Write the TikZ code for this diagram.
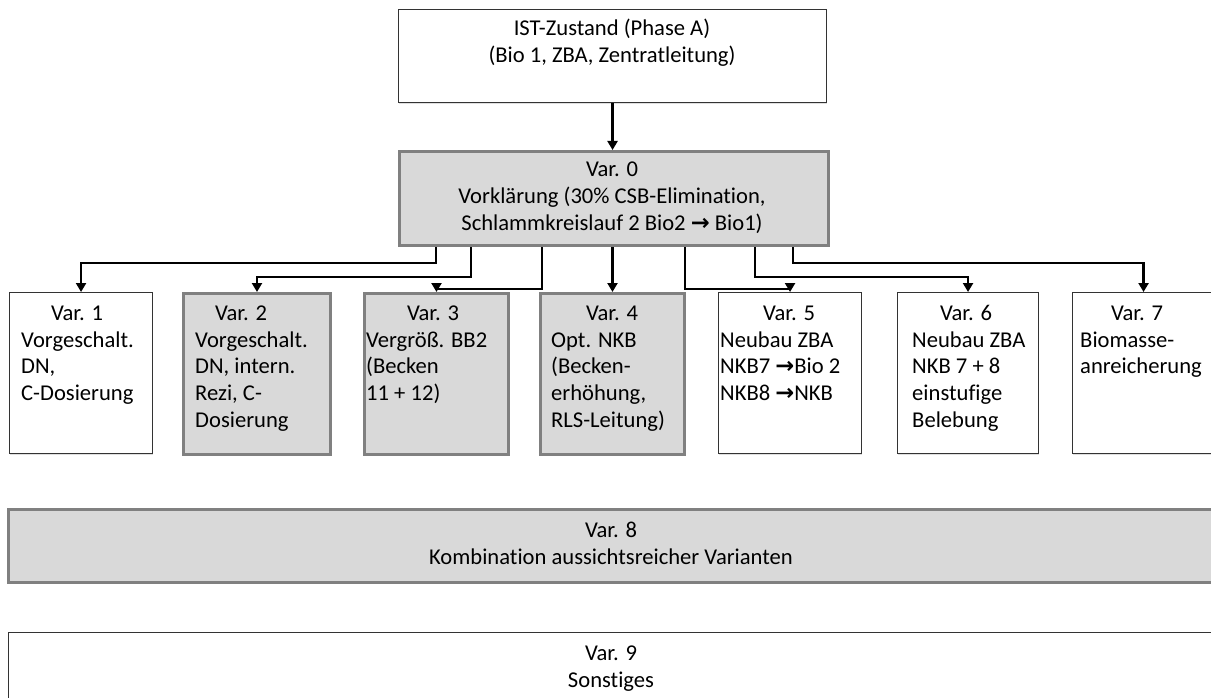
\documentclass[tikz,border=0pt]{standalone}
\usepackage{fontspec}
\setmainfont{Carlito}[Ligatures={NoCommon}]
\newfontfamily\symfont{DejaVu Sans}
\usetikzlibrary{arrows.meta,shadows}
\newcommand\rarrow{{\symfont\bfseries\char"2192}}
\definecolor{boxgray}{HTML}{D9D9D9}
\definecolor{edgegray}{HTML}{808080}
\tikzset{
  every node/.style={font=\fontsize{22.6}{26.8}\selectfont, inner sep=0pt},
  plainbox/.style={rectangle, draw=black!80, line width=1.1pt, fill=white, anchor=north west,
    drop shadow={shadow xshift=0.8pt, shadow yshift=-1.2pt, opacity=.25}},
  greybox/.style={rectangle, draw=edgegray, line width=3pt, fill=boxgray, anchor=north west,
    drop shadow={shadow xshift=1pt, shadow yshift=-1.5pt, opacity=.35}},
  conn/.style={line width=2.6pt, -{Triangle[width=10pt,length=9pt]}},
  title/.style={anchor=base},
  % multi-line texts are placed by the baseline of their last line
  desc/.style={anchor=base west, align=left},
  mid/.style={anchor=base, align=center},
}
\begin{document}
\begin{tikzpicture}[x=1pt,y=-1pt]
\useasboundingbox (0,0) rectangle (1211,698);
\clip (0,0) rectangle (1211,698);
\fill[white] (0,0) rectangle (1211,698);

% starting state and base variant
\node[plainbox, minimum width=428pt, minimum height=93pt] (top) at (398,9) {};
\node[mid] (toptxt) at (612,62.8) {IST-Zustand (Phase A)\\(Bio 1, ZBA, Zentratleitung)};

\node[greybox, minimum width=429pt, minimum height=94pt] (v0) at (398,150) {};
\node[mid] (v0txt) at (612,230.6) {Var. 0\\Vorklärung (30\% CSB-Elimination,\\Schlammkreislauf 2 Bio2 \rarrow{} Bio1)};

% row of variants
\node[plainbox, minimum width=143pt, minimum height=161pt] (v1) at (9,292) {};
\node[greybox,  minimum width=147pt, minimum height=161pt] (v2) at (182,292) {};
\node[greybox,  minimum width=144pt, minimum height=161pt] (v3) at (363,292) {};
\node[greybox,  minimum width=144pt, minimum height=161pt] (v4) at (539,292) {};
\node[plainbox, minimum width=143pt, minimum height=161pt] (v5) at (718,292) {};
\node[plainbox, minimum width=141pt, minimum height=161pt] (v6) at (897,292) {};
\node[plainbox, minimum width=142pt, minimum height=161pt] (v7) at (1072,292) {};

\node[title] (t1) at (77,320) {Var. 1};
\node[desc]  (d1) at (21,400.6) {Vorgeschalt.\\DN,\\C-Dosierung};
\node[title] (t2) at (241,320) {Var. 2};
\node[desc]  (d2) at (195,427.4) {Vorgeschalt.\\DN, intern.\\Rezi, C-\\Dosierung};
\node[title] (t3) at (433,320) {Var. 3};
\node[desc]  (d3) at (366,400.6) {Vergröß. BB2\\(Becken\\11 + 12)};
\node[title] (t4) at (612,320) {Var. 4};
\node[desc]  (d4) at (551,427.4) {Opt. NKB\\(Becken-\\erhöhung,\\RLS-Leitung)};
\node[title] (t5) at (789,320) {Var. 5};
\node[desc]  (d5) at (720,400.6) {Neubau ZBA\\NKB7 \rarrow Bio 2\\NKB8 \rarrow NKB};
\node[title] (t6) at (966,320) {Var. 6};
\node[desc]  (d6) at (912,427.4) {Neubau ZBA\\NKB 7 + 8\\einstufige\\Belebung};
\node[title] (t7) at (1137,320) {Var. 7};
\node[desc]  (d7) at (1080,373.8) {Biomasse-\\anreicherung};

% wide boxes
\node[greybox, minimum width=1208pt, minimum height=73pt] (v8) at (7,508) {};
\node[mid] (v8txt) at (611,564.5) {Var. 8\\Kombination aussichtsreicher Varianten};
\node[plainbox, minimum width=1207pt, minimum height=70pt] (v9) at (8,632) {};
\node[mid] (v9txt) at (611,687.5) {Var. 9\\Sonstiges};

% connectors
\draw[conn] (top.south) -- (top.south |- v0.north);
\draw[conn] ([xshift=-178pt]v0.south) -- ++(0,16) -| (v1.north);
\draw[conn] ([xshift=-143pt]v0.south) -- ++(0,30) -| (v2.north);
\draw[conn] ([xshift=-72pt]v0.south)  -- ++(0,42) -| (v3.north);
\draw[conn] (v0.south -| v4.north) -- (v4.north);
\draw[conn] ([xshift=71pt]v0.south)   -- ++(0,42) -| (v5.north);
\draw[conn] ([xshift=141pt]v0.south)  -- ++(0,30) -| (v6.north);
\draw[conn] ([xshift=179pt]v0.south)  -- ++(0,16) -| (v7.north);
\end{tikzpicture}
\end{document}
